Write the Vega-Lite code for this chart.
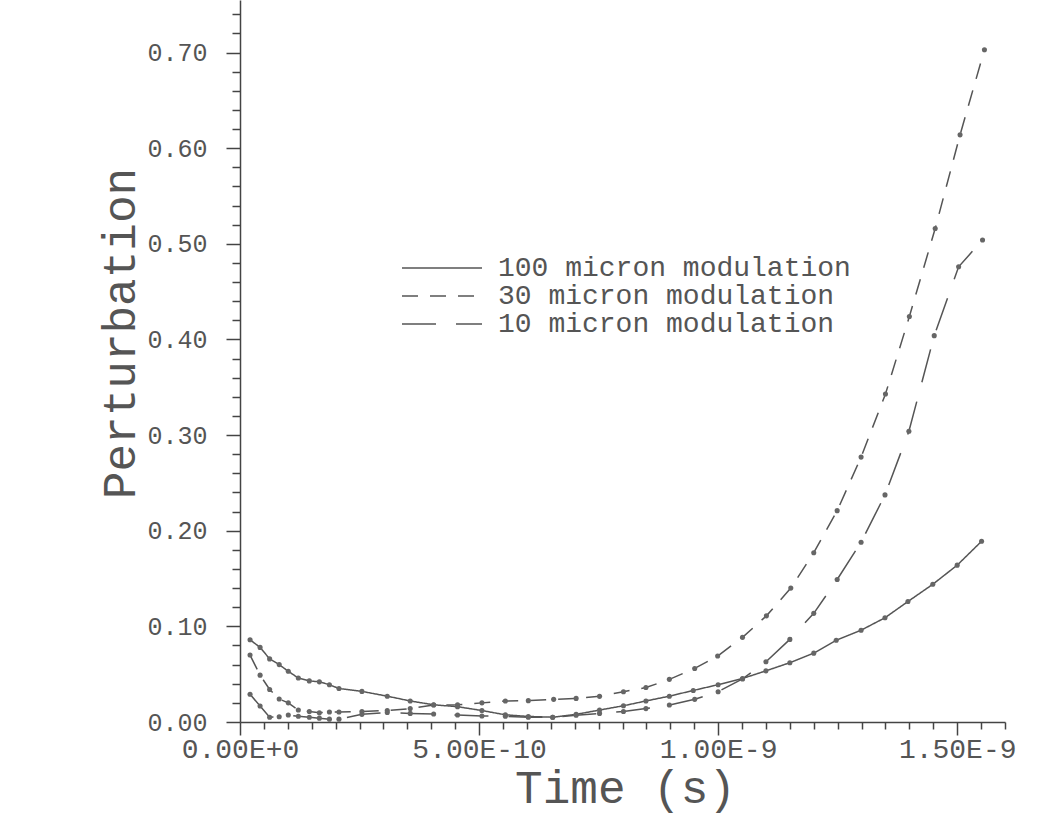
{
  "$schema": "https://vega.github.io/schema/vega-lite/v6.json",
  "width": 765,
  "height": 722,
  "autosize": "none",
  "padding": {"left": 240, "top": 0, "right": 59, "bottom": 94},
  "background": "white",
  "config": {
    "view": {"stroke": null},
    "font": "Liberation Mono",
    "axis": {"domainColor": "#444", "domainWidth": 1.5, "tickColor": "#444", "tickWidth": 1.5, "grid": false, "labelColor": "#555", "titleColor": "#555", "labelFont": "Liberation Mono", "titleFont": "Liberation Mono", "titleFontWeight": "normal"}
  },
  "data": {
    "values": [
      {"series": "100 micron modulation", "t": 0.021e-9, "v": 0.086},
      {"series": "100 micron modulation", "t": 0.042e-9, "v": 0.078},
      {"series": "100 micron modulation", "t": 0.062e-9, "v": 0.066},
      {"series": "100 micron modulation", "t": 0.082e-9, "v": 0.060},
      {"series": "100 micron modulation", "t": 0.101e-9, "v": 0.053},
      {"series": "100 micron modulation", "t": 0.122e-9, "v": 0.046},
      {"series": "100 micron modulation", "t": 0.145e-9, "v": 0.043},
      {"series": "100 micron modulation", "t": 0.166e-9, "v": 0.042},
      {"series": "100 micron modulation", "t": 0.187e-9, "v": 0.039},
      {"series": "100 micron modulation", "t": 0.207e-9, "v": 0.035},
      {"series": "100 micron modulation", "t": 0.255e-9, "v": 0.032},
      {"series": "100 micron modulation", "t": 0.308e-9, "v": 0.027},
      {"series": "100 micron modulation", "t": 0.356e-9, "v": 0.022},
      {"series": "100 micron modulation", "t": 0.405e-9, "v": 0.018},
      {"series": "100 micron modulation", "t": 0.455e-9, "v": 0.016},
      {"series": "100 micron modulation", "t": 0.506e-9, "v": 0.012},
      {"series": "100 micron modulation", "t": 0.555e-9, "v": 0.0075},
      {"series": "100 micron modulation", "t": 0.603e-9, "v": 0.0058},
      {"series": "100 micron modulation", "t": 0.654e-9, "v": 0.005},
      {"series": "100 micron modulation", "t": 0.703e-9, "v": 0.008},
      {"series": "100 micron modulation", "t": 0.752e-9, "v": 0.0125},
      {"series": "100 micron modulation", "t": 0.802e-9, "v": 0.017},
      {"series": "100 micron modulation", "t": 0.849e-9, "v": 0.022},
      {"series": "100 micron modulation", "t": 0.898e-9, "v": 0.027},
      {"series": "100 micron modulation", "t": 0.948e-9, "v": 0.033},
      {"series": "100 micron modulation", "t": 1.000e-9, "v": 0.039},
      {"series": "100 micron modulation", "t": 1.051e-9, "v": 0.0455},
      {"series": "100 micron modulation", "t": 1.100e-9, "v": 0.0535},
      {"series": "100 micron modulation", "t": 1.150e-9, "v": 0.062},
      {"series": "100 micron modulation", "t": 1.200e-9, "v": 0.072},
      {"series": "100 micron modulation", "t": 1.247e-9, "v": 0.0855},
      {"series": "100 micron modulation", "t": 1.299e-9, "v": 0.096},
      {"series": "100 micron modulation", "t": 1.349e-9, "v": 0.109},
      {"series": "100 micron modulation", "t": 1.397e-9, "v": 0.126},
      {"series": "100 micron modulation", "t": 1.449e-9, "v": 0.144},
      {"series": "100 micron modulation", "t": 1.500e-9, "v": 0.164},
      {"series": "100 micron modulation", "t": 1.551e-9, "v": 0.189},

      {"series": "30 micron modulation", "t": 0.021e-9, "v": 0.070},
      {"series": "30 micron modulation", "t": 0.042e-9, "v": 0.049},
      {"series": "30 micron modulation", "t": 0.062e-9, "v": 0.034},
      {"series": "30 micron modulation", "t": 0.082e-9, "v": 0.024},
      {"series": "30 micron modulation", "t": 0.101e-9, "v": 0.020},
      {"series": "30 micron modulation", "t": 0.122e-9, "v": 0.0125},
      {"series": "30 micron modulation", "t": 0.145e-9, "v": 0.011},
      {"series": "30 micron modulation", "t": 0.166e-9, "v": 0.0097},
      {"series": "30 micron modulation", "t": 0.187e-9, "v": 0.0105},
      {"series": "30 micron modulation", "t": 0.207e-9, "v": 0.0105},
      {"series": "30 micron modulation", "t": 0.255e-9, "v": 0.011},
      {"series": "30 micron modulation", "t": 0.308e-9, "v": 0.012},
      {"series": "30 micron modulation", "t": 0.356e-9, "v": 0.014},
      {"series": "30 micron modulation", "t": 0.405e-9, "v": 0.0178},
      {"series": "30 micron modulation", "t": 0.455e-9, "v": 0.018},
      {"series": "30 micron modulation", "t": 0.506e-9, "v": 0.020},
      {"series": "30 micron modulation", "t": 0.555e-9, "v": 0.022},
      {"series": "30 micron modulation", "t": 0.603e-9, "v": 0.0223},
      {"series": "30 micron modulation", "t": 0.656e-9, "v": 0.0237},
      {"series": "30 micron modulation", "t": 0.703e-9, "v": 0.0247},
      {"series": "30 micron modulation", "t": 0.752e-9, "v": 0.0268},
      {"series": "30 micron modulation", "t": 0.802e-9, "v": 0.0317},
      {"series": "30 micron modulation", "t": 0.849e-9, "v": 0.036},
      {"series": "30 micron modulation", "t": 0.898e-9, "v": 0.0446},
      {"series": "30 micron modulation", "t": 0.951e-9, "v": 0.056},
      {"series": "30 micron modulation", "t": 0.999e-9, "v": 0.069},
      {"series": "30 micron modulation", "t": 1.051e-9, "v": 0.0885},
      {"series": "30 micron modulation", "t": 1.101e-9, "v": 0.111},
      {"series": "30 micron modulation", "t": 1.152e-9, "v": 0.140},
      {"series": "30 micron modulation", "t": 1.200e-9, "v": 0.177},
      {"series": "30 micron modulation", "t": 1.249e-9, "v": 0.221},
      {"series": "30 micron modulation", "t": 1.299e-9, "v": 0.277},
      {"series": "30 micron modulation", "t": 1.350e-9, "v": 0.343},
      {"series": "30 micron modulation", "t": 1.400e-9, "v": 0.424},
      {"series": "30 micron modulation", "t": 1.454e-9, "v": 0.516},
      {"series": "30 micron modulation", "t": 1.506e-9, "v": 0.614},
      {"series": "30 micron modulation", "t": 1.557e-9, "v": 0.703},

      {"series": "10 micron modulation", "t": 0.021e-9, "v": 0.029},
      {"series": "10 micron modulation", "t": 0.042e-9, "v": 0.0167},
      {"series": "10 micron modulation", "t": 0.062e-9, "v": 0.005},
      {"series": "10 micron modulation", "t": 0.082e-9, "v": 0.0055},
      {"series": "10 micron modulation", "t": 0.101e-9, "v": 0.0073},
      {"series": "10 micron modulation", "t": 0.122e-9, "v": 0.006},
      {"series": "10 micron modulation", "t": 0.145e-9, "v": 0.005},
      {"series": "10 micron modulation", "t": 0.166e-9, "v": 0.004},
      {"series": "10 micron modulation", "t": 0.187e-9, "v": 0.003},
      {"series": "10 micron modulation", "t": 0.207e-9, "v": 0.003},
      {"series": "10 micron modulation", "t": 0.255e-9, "v": 0.008},
      {"series": "10 micron modulation", "t": 0.308e-9, "v": 0.010},
      {"series": "10 micron modulation", "t": 0.356e-9, "v": 0.009},
      {"series": "10 micron modulation", "t": 0.405e-9, "v": 0.0084},
      {"series": "10 micron modulation", "t": 0.455e-9, "v": 0.0073},
      {"series": "10 micron modulation", "t": 0.506e-9, "v": 0.0063},
      {"series": "10 micron modulation", "t": 0.555e-9, "v": 0.006},
      {"series": "10 micron modulation", "t": 0.603e-9, "v": 0.005},
      {"series": "10 micron modulation", "t": 0.654e-9, "v": 0.005},
      {"series": "10 micron modulation", "t": 0.703e-9, "v": 0.007},
      {"series": "10 micron modulation", "t": 0.752e-9, "v": 0.009},
      {"series": "10 micron modulation", "t": 0.802e-9, "v": 0.011},
      {"series": "10 micron modulation", "t": 0.849e-9, "v": 0.014},
      {"series": "10 micron modulation", "t": 0.898e-9, "v": 0.0178},
      {"series": "10 micron modulation", "t": 0.951e-9, "v": 0.0237},
      {"series": "10 micron modulation", "t": 1.000e-9, "v": 0.0317},
      {"series": "10 micron modulation", "t": 1.051e-9, "v": 0.045},
      {"series": "10 micron modulation", "t": 1.100e-9, "v": 0.063},
      {"series": "10 micron modulation", "t": 1.150e-9, "v": 0.0864},
      {"series": "10 micron modulation", "t": 1.200e-9, "v": 0.1136},
      {"series": "10 micron modulation", "t": 1.249e-9, "v": 0.149},
      {"series": "10 micron modulation", "t": 1.299e-9, "v": 0.188},
      {"series": "10 micron modulation", "t": 1.349e-9, "v": 0.2375},
      {"series": "10 micron modulation", "t": 1.399e-9, "v": 0.304},
      {"series": "10 micron modulation", "t": 1.452e-9, "v": 0.404},
      {"series": "10 micron modulation", "t": 1.503e-9, "v": 0.476},
      {"series": "10 micron modulation", "t": 1.553e-9, "v": 0.504}
    ]
  },
  "layer": [
    {
      "mark": {"type": "line", "color": "#555", "strokeWidth": 1.5},
      "encoding": {
        "x": {
          "field": "t", "type": "quantitative",
          "scale": {"domain": [0, 1.6e-9], "nice": false, "zero": false},
          "axis": {
            "orient": "bottom",
            "values": [0, 5e-10, 1e-9, 1.5e-9],
            "labelExpr": "datum.value < 1e-12 ? '0.00E+0' : datum.value < 7e-10 ? '5.00E-10' : datum.value < 1.2e-9 ? '1.00E-9' : '1.50E-9'",
            "tickSize": 13,
            "labelPadding": 0,
            "labelFontSize": 28,
            "labelFlush": false,
            "labelOverlap": false,
            "title": "Time (s)",
            "titleFontSize": 46,
            "titleX": 385,
            "titleY": 66,
            "titleAlign": "center",
            "titleBaseline": "middle"
          }
        },
        "y": {
          "field": "v", "type": "quantitative",
          "scale": {"domain": [0, 0.755], "nice": false, "zero": false},
          "axis": {
            "orient": "left",
            "values": [0, 0.1, 0.2, 0.3, 0.4, 0.5, 0.6, 0.7],
            "format": ".2f",
            "tickSize": 14,
            "labelPadding": 19,
            "labelFontSize": 25,
            "labelOverlap": false,
            "labelFlush": false,
            "title": "Perturbation",
            "titleFontSize": 46,
            "titleAngle": -90,
            "titleX": -120,
            "titleY": 333,
            "titleAlign": "center",
            "titleBaseline": "middle"
          }
        },
        "strokeDash": {
          "field": "series", "type": "nominal",
          "scale": {
            "domain": ["100 micron modulation", "30 micron modulation", "10 micron modulation"],
            "range": [[1, 0], [16, 12], [34, 20]]
          },
          "legend": {
            "orient": "none",
            "legendX": 188,
            "legendY": 254,
            "title": null,
            "symbolType": "M-4,0H4",
            "symbolSize": 400,
            "symbolStrokeColor": "#555",
            "symbolStrokeWidth": 1.5,
            "labelFontSize": 28,
            "labelFont": "Liberation Mono",
            "labelColor": "#555",
            "labelLimit": 0,
            "labelOffset": 42,
            "rowPadding": 0,
            "padding": 0
          }
        }
      }
    },
    {
      "mark": {"type": "point", "filled": true, "color": "#666", "size": 26, "opacity": 1},
      "encoding": {
        "x": {
          "field": "t", "type": "quantitative",
          "axis": {
            "orient": "bottom",
            "values": [0.05e-9, 0.1e-9, 0.15e-9, 0.2e-9, 0.25e-9, 0.3e-9, 0.35e-9, 0.4e-9, 0.45e-9, 0.55e-9, 0.6e-9, 0.65e-9, 0.7e-9, 0.75e-9, 0.8e-9, 0.85e-9, 0.9e-9, 0.95e-9, 1.05e-9, 1.1e-9, 1.15e-9, 1.2e-9, 1.25e-9, 1.3e-9, 1.35e-9, 1.4e-9, 1.45e-9, 1.55e-9, 1.6e-9],
            "tickSize": 7,
            "labels": false,
            "domain": false,
            "title": null
          }
        },
        "y": {
          "field": "v", "type": "quantitative",
          "axis": {
            "orient": "left",
            "values": [0.02, 0.04, 0.06, 0.08, 0.12, 0.14, 0.16, 0.18, 0.22, 0.24, 0.26, 0.28, 0.32, 0.34, 0.36, 0.38, 0.42, 0.44, 0.46, 0.48, 0.52, 0.54, 0.56, 0.58, 0.62, 0.64, 0.66, 0.68, 0.72, 0.74],
            "tickSize": 8,
            "labels": false,
            "domain": false,
            "title": null
          }
        }
      }
    }
  ],
  "resolve": {"axis": {"x": "independent", "y": "independent"}}
}
